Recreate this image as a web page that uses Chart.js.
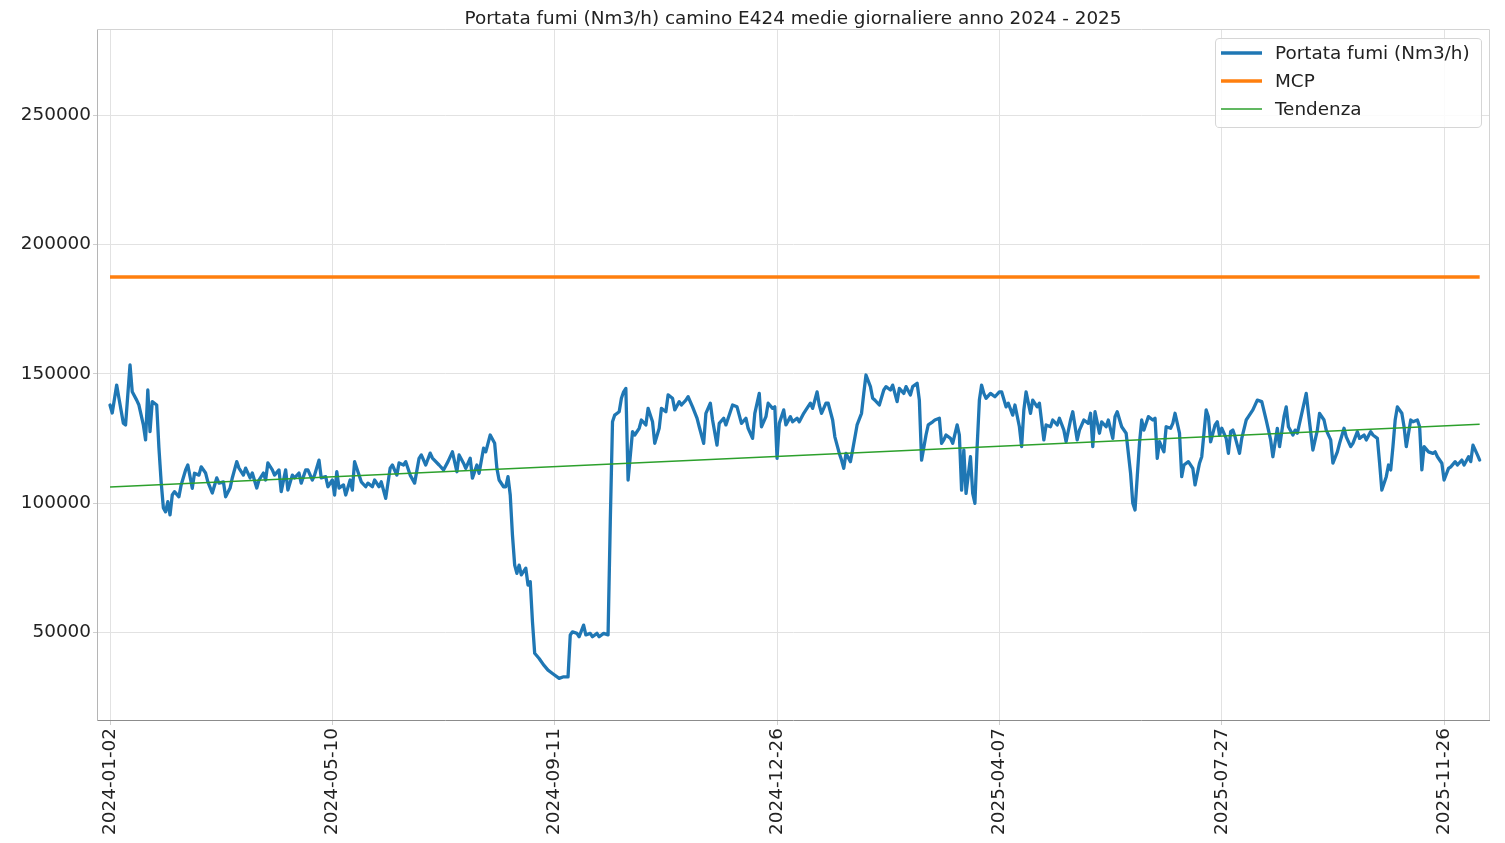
<!DOCTYPE html>
<html>
<head>
<meta charset="utf-8">
<script src="https://cdn.jsdelivr.net/npm/chart.js@4.4.1/dist/chart.umd.min.js"></script>
<style>
  html, body { margin: 0; padding: 0; background: #ffffff; }
  #c { display: block; }
</style>
</head>
<body>
<canvas id="c" width="1505" height="843" style="width:1505px;height:843px"></canvas>
<script>
// ---- data ----
const chartTitle = 'Portata fumi (Nm3/h) camino E424 medie giornaliere anno 2024 - 2025';
const tickLabels = ['2024-01-02', '2024-05-10', '2024-09-11', '2024-12-26', '2025-04-07', '2025-07-27', '2025-11-26'];
const tickStep = 100;           // days (samples) between date labels
const yTicks = [50000, 100000, 150000, 200000, 250000];

const dayIndex = [
  0,1,3,4,6,7,9,10,12,13,
  15,16,17,18,19,21,22,23,24,25,
  26,27,28,29,31,32,34,35,37,38,
  40,41,43,44,46,48,49,51,52,54,
  55,57,58,60,61,63,64,66,67,69,
  70,71,73,74,76,77,79,80,82,83,
  85,86,88,89,91,92,94,95,97,98,
  100,101,102,103,105,106,108,109,110,112,
  113,115,116,118,119,121,122,124,126,127,
  129,130,132,133,135,137,139,140,142,144,
  145,148,150,152,154,156,157,159,160,162,
  163,165,166,168,169,171,173,174,175,177,
  178,179,180,181,182,183,184,185,187,188,
  189,190,191,193,195,197,199,202,204,206,
  207,208,210,211,213,214,216,217,219,220,
  222,224,225,226,227,229,230,231,232,233,
  235,236,238,239,241,242,244,245,247,248,
  250,251,253,254,256,257,259,260,262,264,
  265,267,268,270,271,273,274,276,277,280,
  282,284,286,287,289,290,292,293,295,296,
  298,299,300,301,303,304,306,307,309,310,
  312,313,315,316,318,319,320,322,323,325,
  326,328,329,330,331,333,334,336,338,339,
  340,342,343,344,346,348,349,351,352,354,
  355,357,358,360,361,363,364,365,367,368,
  370,371,373,374,375,376,378,379,381,382,
  383,384,385,387,388,389,390,391,392,393,
  394,396,398,400,401,403,404,406,407,409,
  410,411,412,414,415,417,418,420,421,423,
  424,426,427,429,430,432,433,435,436,438,
  440,441,442,443,445,446,448,449,451,452,
  453,455,457,459,460,461,462,463,464,465,
  467,469,470,471,472,474,475,477,478,479,
  481,482,483,485,487,488,490,491,493,494,
  495,497,498,499,500,502,503,504,505,506,
  508,509,511,512,514,516,518,520,522,523,
  525,526,528,529,530,532,533,534,536,538,
  539,541,543,544,546,547,549,550,552,553,
  555,556,558,559,561,562,564,565,567,568,
  570,571,572,574,575,576,577,578,579,581,
  582,583,585,586,588,589,590,591,593,595,
  596,597,599,600,602,603,605,606,608,609,
  611,612,613,615,616
];

const flowValues = [
  137900,134800,145600,140600,130900,130200,153400,143000,139800,137900,
  130200,124400,143700,127600,139200,137900,121300,108200,98100,96600,
  100500,95400,103100,104400,102400,107000,112800,114700,105700,111500,
  110800,114000,111600,108200,103900,109700,107700,108200,102400,105800,
  109700,116000,113500,110800,113500,109700,111600,105800,108900,111600,
  108900,115500,112800,110800,112800,104400,112800,105000,110800,109700,
  111600,107700,112800,112800,108900,110800,116600,109700,110200,106300,
  108900,103100,112100,105800,107000,103100,108900,105000,116000,110800,
  108200,106300,107700,106300,108900,106300,108200,101800,113500,114700,
  110800,115500,114700,116000,110800,107700,117300,118600,114700,119300,
  117400,114700,112800,116000,119800,112100,118600,115400,113400,117300,
  109600,114700,111500,121200,119800,126300,123100,113400,108900,106300,
  106300,110200,103100,87600,76000,72800,76000,72200,74800,68300,
  69600,54100,41900,39900,37400,35400,34100,32200,32800,32800,
  49000,50200,49600,48300,52800,49000,49600,48300,49600,48300,
  49600,49000,92800,131400,134000,135300,140500,143000,144300,108900,
  127600,126300,128900,132100,130200,136600,131400,123100,128900,136600,
  135300,141800,140500,136000,139200,137900,139800,141100,137200,132800,
  129500,123100,134700,138600,132100,122400,130800,132800,130200,137900,
  137200,130800,132800,128900,125000,134700,142400,129500,133400,138600,
  136600,137200,117300,130800,136000,130200,133400,131400,132800,131400,
  134700,136000,138600,136600,143000,137900,134700,138600,138600,132100,
  125600,119200,116600,113400,119200,116000,120500,130200,134700,142400,
  149500,145000,140500,139800,137900,143700,145000,143700,145600,139200,
  144300,142400,145000,141800,145000,146300,139800,116600,126300,130200,
  131400,132100,132800,123100,124400,126300,125000,123100,130200,126300,
  105000,120500,103700,117900,103700,99900,121800,139800,145600,142400,
  140500,142400,141100,143000,143000,137200,138600,134000,137900,129500,
  121800,136000,143000,134700,139800,137200,138600,124400,130200,129500,
  132100,130200,132800,128200,123700,132100,135300,124400,128200,132100,
  130800,134700,121800,135300,127000,131400,129500,132100,125000,133400,
  135300,129500,127000,111500,99900,97300,110200,123100,132100,128200,
  133400,132100,132800,117300,123700,119800,129500,128900,130800,134700,
  127000,110200,114700,116000,113400,107000,115400,117900,136000,133400,
  123700,130200,131400,126300,128900,125000,119200,127600,128200,125600,
  119200,125000,132100,133400,136000,139800,139200,132100,124400,117900,
  128900,121800,133400,137200,129500,126300,128200,127000,134700,142400,
  134700,120500,128200,134700,132100,128200,124400,115400,119800,123100,
  128900,125600,121800,123100,127600,125000,126300,124400,127600,126300,
  125000,115400,105000,110200,114700,112800,121800,132100,137200,134700,
  129500,121800,132100,131400,132100,129500,112800,121800,119800,119200,
  119800,117900,115400,108900,113400,114000,116000,114700,116600,114700,
  117900,116000,122400,118600,116600
];

const mcpDays = [0, 616];
const mcpValues = [187400, 187400];
const trendDays = [0, 616];
const trendValues = [106200, 130500];

const seriesLabels = ['Portata fumi (Nm3/h)', 'MCP', 'Tendenza'];

// ---- drawing ----
const FONT = '"DejaVu Sans", "Liberation Sans", sans-serif';
const FS = 18.4;
const pts = (xs, ys) => xs.map((x, i) => ({ x: x, y: ys[i] }));

const frameAndTitle = {
  id: 'frameAndTitle',
  beforeDatasetsDraw(chart) {
    const { ctx, chartArea: a } = chart;
    ctx.save();
    ctx.strokeStyle = '#d4d4d4';
    ctx.lineWidth = 1;
    ctx.beginPath();
    ctx.moveTo(a.left, a.top + 0.5);
    ctx.lineTo(a.right + 0.5, a.top + 0.5);
    ctx.lineTo(a.right + 0.5, a.bottom);
    ctx.stroke();
    ctx.restore();
  },
  afterDraw(chart) {
    const { ctx, chartArea: a } = chart;
    ctx.save();
    ctx.fillStyle = '#222';
    ctx.font = FS + 'px ' + FONT;
    ctx.textAlign = 'center';
    ctx.textBaseline = 'alphabetic';
    ctx.fillText(chartTitle, (a.left + a.right) / 2, 24);

    // legend (matplotlib style, upper right)
    const ds = chart.data.datasets;
    const boxL = 1215, boxT = 38, boxR = 1481, boxB = 127;
    ctx.fillStyle = 'rgba(255,255,255,0.85)';
    ctx.strokeStyle = '#d6d6d6';
    ctx.lineWidth = 1;
    const r = 4;
    ctx.beginPath();
    ctx.moveTo(boxL + r, boxT + 0.5);
    ctx.lineTo(boxR - r, boxT + 0.5);
    ctx.quadraticCurveTo(boxR + 0.5, boxT + 0.5, boxR + 0.5, boxT + r);
    ctx.lineTo(boxR + 0.5, boxB - r);
    ctx.quadraticCurveTo(boxR + 0.5, boxB + 0.5, boxR - r, boxB + 0.5);
    ctx.lineTo(boxL + r, boxB + 0.5);
    ctx.quadraticCurveTo(boxL + 0.5, boxB + 0.5, boxL + 0.5, boxB - r);
    ctx.lineTo(boxL + 0.5, boxT + r);
    ctx.quadraticCurveTo(boxL + 0.5, boxT + 0.5, boxL + r, boxT + 0.5);
    ctx.closePath();
    ctx.fill();
    ctx.stroke();
    const rows = [53, 81, 109];
    ds.forEach((d, i) => {
      const y = rows[i];
      ctx.strokeStyle = d.borderColor;
      ctx.lineWidth = d.borderWidth;
      ctx.lineCap = 'butt';
      ctx.beginPath();
      ctx.moveTo(1221, y);
      ctx.lineTo(1262, y);
      ctx.stroke();
      ctx.fillStyle = '#222';
      ctx.textAlign = 'left';
      ctx.textBaseline = 'middle';
      ctx.font = FS + 'px ' + FONT;
      ctx.fillText(d.label, 1275, y + 1);
    });
    ctx.restore();
  }
};

new Chart(document.getElementById('c'), {
  type: 'line',
  data: {
    datasets: [
      { label: seriesLabels[0], data: pts(dayIndex, flowValues), borderColor: '#1f77b4', borderWidth: 3.3,
        pointRadius: 0, tension: 0, borderJoinStyle: 'round', borderCapStyle: 'round', order: 3 },
      { label: seriesLabels[1], data: pts(mcpDays, mcpValues), borderColor: '#ff7f0e', borderWidth: 3.3,
        pointRadius: 0, tension: 0, order: 2 },
      { label: seriesLabels[2], data: pts(trendDays, trendValues), borderColor: '#2ca02c', borderWidth: 1.5,
        pointRadius: 0, tension: 0, order: 1 }
    ]
  },
  options: {
    responsive: false,
    animation: false,
    events: [],
    layout: { padding: { top: 29, right: 16, left: 0, bottom: 0 } },
    plugins: { legend: { display: false }, title: { display: false }, tooltip: { enabled: false } },
    scales: {
      x: {
        type: 'linear',
        min: -5.85,
        max: 620.2,
        afterBuildTicks: (s) => { s.ticks = tickLabels.map((t, i) => ({ value: i * tickStep })); },
        afterFit: (s) => { s.height = 123; },
        ticks: {
          autoSkip: false,
          minRotation: 90,
          maxRotation: 90,
          padding: 3,
          color: '#222',
          font: { family: FONT, size: FS },
          callback: (v) => tickLabels[Math.round(v / tickStep)]
        },
        grid: { color: '#e2e2e2', lineWidth: 1, tickLength: 5, tickColor: '#cfcfcf' },
        border: { color: '#8c8c8c', width: 1 }
      },
      y: {
        type: 'linear',
        min: 16100,
        max: 283300,
        afterBuildTicks: (s) => { s.ticks = yTicks.map(v => ({ value: v })); },
        afterFit: (s) => { s.width = 97; },
        ticks: {
          padding: 2,
          color: '#222',
          font: { family: FONT, size: FS },
          callback: (v) => String(v)
        },
        grid: { color: '#e2e2e2', lineWidth: 1, tickLength: 4, tickColor: '#cfcfcf' },
        border: { color: '#b5b5b5', width: 1 }
      }
    }
  },
  plugins: [frameAndTitle]
});
</script>
</body>
</html>
